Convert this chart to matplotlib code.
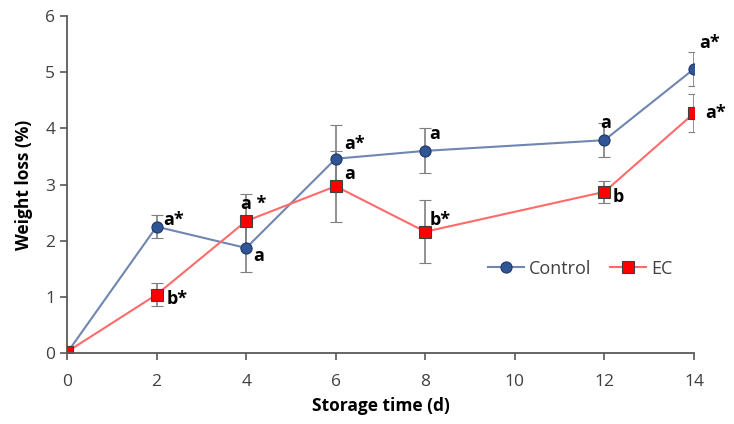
import matplotlib.pyplot as plt
from matplotlib.lines import Line2D

plt.rcParams['font.family'] = ['Open Sans', 'DejaVu Sans']

days = [0, 2, 4, 6, 8, 12, 14]
control = [0.0, 2.25, 1.87, 3.46, 3.60, 3.79, 5.06]
control_err = [0.0, 0.20, 0.42, 0.60, 0.40, 0.30, 0.30]
ec = [0.02, 1.04, 2.35, 2.97, 2.16, 2.87, 4.27]
ec_err = [0.0, 0.20, 0.48, 0.63, 0.56, 0.19, 0.34]
control_labels = ['', 'a*', 'a', 'a*', 'a', 'a', 'a*']
ec_labels = ['', 'b*', 'a *', 'a', 'b*', 'b', 'a*']

# label offsets in points (dx, dy)
control_offs = [(0, 0), (5, -2), (5, -12), (6, 4), (3, 6), (-3, 6), (4, 12)]
ec_offs = [(0, 0), (7, -10), (-4, 6), (6, 2), (3, 2), (6, -10), (8, -6)]

ctrl_style = dict(color='#6F86B0', marker='o', ms=8, mfc='#2F5597', mec='#1F3864', mew=0.8)
ec_style = dict(color='#FF6B6B', marker='s', ms=8, mfc='#FF0000', mec='#404040', mew=0.8)

fig = plt.figure(figsize=(7.34, 4.24), dpi=100)
ax = fig.add_axes([0.0913, 0.1675, 0.8542, 0.7945])

ax.errorbar(days, control, yerr=control_err, lw=1.5, ecolor='#7F7F7F',
            elinewidth=1.2, capsize=4, capthick=1.2, zorder=3, **ctrl_style)
ax.errorbar(days, ec, yerr=ec_err, lw=1.5, ecolor='#7F7F7F',
            elinewidth=1.2, capsize=4, capthick=1.2, zorder=3, **ec_style)

for x, y, t, o in zip(days, control, control_labels, control_offs):
    if t:
        ax.annotate(t, (x, y), xytext=o, textcoords='offset points',
                    fontsize=13, fontweight='bold', color='black',
                    ha='left', va='bottom')
for x, y, t, o in zip(days, ec, ec_labels, ec_offs):
    if t:
        ax.annotate(t, (x, y), xytext=o, textcoords='offset points',
                    fontsize=13, fontweight='bold', color='black',
                    ha='left', va='bottom')

ax.set_xlim(0, 14)
ax.set_ylim(0, 6)
ax.set_xticks(range(0, 15, 2))
ax.set_yticks(range(0, 7))
ax.spines['top'].set_visible(False)
ax.spines['right'].set_visible(False)
for s in ('left', 'bottom'):
    ax.spines[s].set_color('#595959')
    ax.spines[s].set_linewidth(1.3)
ax.spines['bottom'].set_zorder(5)
ax.tick_params(colors='#595959', labelcolor='#404040', labelsize=12.5,
               length=5, width=1.2)
ax.tick_params(axis='x', pad=10)
ax.set_xlabel('Storage time (d)', fontsize=12.5, fontweight='bold', labelpad=5)
ax.set_ylabel('Weight loss (%)', fontsize=12.5, fontweight='bold', labelpad=9)

handles = [Line2D([], [], lw=1.5, **ctrl_style), Line2D([], [], lw=1.5, **ec_style)]
leg = ax.legend(handles, ['Control', 'EC'], loc='center left',
                bbox_to_anchor=(0.665, 0.25), ncol=2, frameon=False,
                fontsize=13, handlelength=2.0, columnspacing=1.0,
                handletextpad=0.3, borderaxespad=0, borderpad=0.2)
for t in leg.get_texts():
    t.set_color('#404040')

fig.savefig('out.png', dpi=100)
